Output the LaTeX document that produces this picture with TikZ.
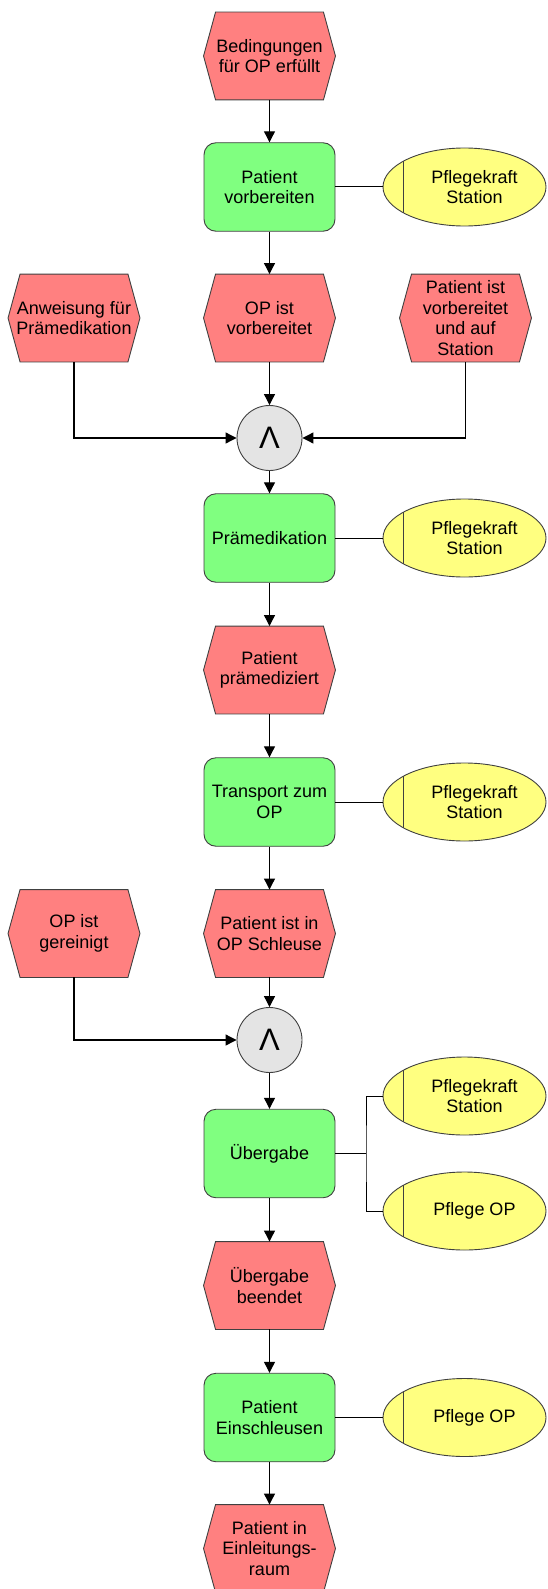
\documentclass[tikz,border=0pt]{standalone}
\usepackage{fontspec}
\setmainfont{Liberation Sans}
\usetikzlibrary{shapes.geometric,arrows.meta}

% Event shape: a flat hexagon with pointed left and right ends
\makeatletter
\pgfdeclareshape{epcevent}{
  \inheritsavedanchors[from=rectangle]
  \inheritanchorborder[from=rectangle]
  \inheritanchor[from=rectangle]{center}
  \inheritanchor[from=rectangle]{north}
  \inheritanchor[from=rectangle]{south}
  \inheritanchor[from=rectangle]{east}
  \inheritanchor[from=rectangle]{west}
  \inheritanchor[from=rectangle]{text}
  \inheritanchor[from=rectangle]{base}
  \inheritanchor[from=rectangle]{mid}
  \backgroundpath{
    \southwest \pgf@xa=\pgf@x \pgf@ya=\pgf@y
    \northeast \pgf@xb=\pgf@x \pgf@yb=\pgf@y
    \pgf@yc=.5\pgf@ya \advance\pgf@yc by .5\pgf@yb
    \pgfpathmoveto{\pgfqpoint{\pgf@xa}{\pgf@yc}}
    \pgfpathlineto{\pgfqpoint{\dimexpr\pgf@xa+12pt\relax}{\pgf@yb}}
    \pgfpathlineto{\pgfqpoint{\dimexpr\pgf@xb-12pt\relax}{\pgf@yb}}
    \pgfpathlineto{\pgfqpoint{\pgf@xb}{\pgf@yc}}
    \pgfpathlineto{\pgfqpoint{\dimexpr\pgf@xb-12pt\relax}{\pgf@ya}}
    \pgfpathlineto{\pgfqpoint{\dimexpr\pgf@xa+12pt\relax}{\pgf@ya}}
    \pgfpathclose
  }
}
\makeatother

\definecolor{evfill}{HTML}{FF8080}
\definecolor{fnfill}{HTML}{80FF80}
\definecolor{orgfill}{HTML}{FFFF80}
\definecolor{opfill}{HTML}{E4E4E4}
\definecolor{edge}{HTML}{404040}

\tikzset{
  base/.style={draw=edge, line width=0.9pt, inner sep=0pt, align=center,
    font=\fontsize{18pt}{20.5pt}\selectfont},
  event/.style={base, shape=epcevent, fill=evfill,
    minimum width=131pt, minimum height=87pt},
  func/.style={base, rectangle, rounded corners=12pt, fill=fnfill,
    minimum width=131pt, minimum height=88.5pt},
  org/.style={base, ellipse, fill=orgfill,
    minimum width=163pt, minimum height=78pt,
    path picture={\draw[edge, line width=1pt]
      ([xshift=20pt]path picture bounding box.north west) --
      ([xshift=20pt]path picture bounding box.south west);}},
  orglabel/.style={align=center, xshift=10pt, inner sep=0pt,
    font=\fontsize{18pt}{20.5pt}\selectfont},
  andop/.style={base, circle, fill=opfill, minimum size=65pt,
    font=\fontsize{31pt}{31pt}\selectfont},
  flow/.style={draw=black, line width=1.1pt,
    -{Triangle[width=11pt,length=11pt]}},
  assoc/.style={draw=black, line width=1pt}
}

\begin{document}
\begin{tikzpicture}[x=1pt, y=-1pt]
  \useasboundingbox (0,0) rectangle (547,1589);

  % main column
  \node[event] (e1) at (269.5,56) {Bedingungen\\für OP erfüllt};
  \node[func]  (f1) at (269.5,187) {Patient\\vorbereiten};
  \node[org]   (o1) at (464.5,187) {};
  \node[orglabel] (o1t) at (o1.center) {Pflegekraft\\Station};

  \node[event] (anw) at (74,318) {Anweisung für\\Prämedikation};
  \node[event] (eop) at (269.5,318) {OP ist\\vorbereitet};
  \node[event] (pv)  at (465.5,318) {Patient ist\\vorbereitet\\und auf\\Station};

  \node[andop] (and1) at (269.5,438) {Λ};

  \node[func]  (f2) at (269.5,538) {Prämedikation};
  \node[org]   (o2) at (464.5,538) {};
  \node[orglabel] (o2t) at (o2.center) {Pflegekraft\\Station};

  \node[event] (e3) at (269.5,670) {Patient\\prämediziert};

  \node[func]  (f3) at (269.5,802) {Transport zum\\OP};
  \node[org]   (o3) at (464.5,802) {};
  \node[orglabel] (o3t) at (o3.center) {Pflegekraft\\Station};

  \node[event] (gr) at (74,933.5) {OP ist\\gereinigt};
  \node[event] (ps) at (269.5,933.5) {Patient ist in\\OP Schleuse};

  \node[andop] (and2) at (269.5,1040) {Λ};

  \node[func]  (f4) at (269.5,1153.5) {Übergabe};
  \node[org]   (o4a) at (464.5,1096) {};
  \node[orglabel] (o4at) at (o4a.center) {Pflegekraft\\Station};
  \node[org]   (o4b) at (464.5,1211) {};
  \node[orglabel] (o4bt) at (o4b.center) {Pflege OP};

  \node[event] (e6) at (269.5,1285.5) {Übergabe\\beendet};

  \node[func]  (f5) at (269.5,1417.5) {Patient\\Einschleusen};
  \node[org]   (o5) at (464.5,1417.5) {};
  \node[orglabel] (o5t) at (o5.center) {Pflege OP};

  \node[event] (e7) at (269.5,1548.5) {Patient in\\Einleitungs-\\raum};

  % control flow
  \draw[flow] (e1) -- (f1);
  \draw[flow] (f1) -- (eop);
  \draw[flow] (eop) -- (and1);
  \draw[flow] (anw.south) |- (and1.west);
  \draw[flow] (pv.south) |- (and1.east);
  \draw[flow] (and1) -- (f2);
  \draw[flow] (f2) -- (e3);
  \draw[flow] (e3) -- (f3);
  \draw[flow] (f3) -- (ps);
  \draw[flow] (ps) -- (and2);
  \draw[flow] (gr.south) |- (and2.west);
  \draw[flow] (and2) -- (f4);
  \draw[flow] (f4) -- (e6);
  \draw[flow] (e6) -- (f5);
  \draw[flow] (f5) -- (e7);

  % organisational units
  \draw[assoc] (f1.east) -- (o1.west);
  \draw[assoc] (f2.east) -- (o2.west);
  \draw[assoc] (f3.east) -- (o3.west);
  \coordinate (br) at (366,1153.5);
  \draw[assoc] (f4.east) -- (br);
  \draw[assoc] (o4a.west) -| (br) |- (o4b.west);
  \draw[assoc] (f5.east) -- (o5.west);
\end{tikzpicture}
\end{document}
